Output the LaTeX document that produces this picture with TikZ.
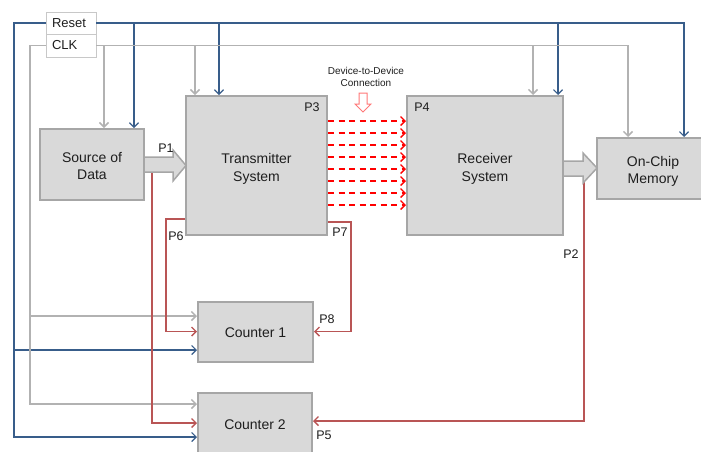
\documentclass[tikz,border=0pt]{standalone}
\usepackage{fontspec}
\setmainfont{Liberation Sans}
\usetikzlibrary{arrows.meta,calc}
\definecolor{blu}{RGB}{56,93,138}
\definecolor{gln}{RGB}{178,178,178}
\definecolor{rln}{RGB}{185,85,85}
\definecolor{bfill}{RGB}{217,217,217}
\definecolor{bdraw}{RGB}{166,166,166}
\definecolor{dred}{RGB}{255,0,0}
\definecolor{hred}{RGB}{255,120,120}
\definecolor{sigdraw}{RGB}{200,200,200}
\definecolor{txt}{RGB}{30,30,30}
\begin{document}
\begin{tikzpicture}[x=1pt,y=1pt,
  >={Straight Barb[length=4.5pt,width=9pt]},
  box/.style={draw=bdraw, fill=bfill, line width=2pt, inner sep=0pt, align=center, text=txt,
    font=\fontsize{14}{17.5}\selectfont},
  btext/.style={inner sep=0pt, align=center, text=txt, font=\fontsize{14}{17.5}\selectfont},
  sig/.style={draw=sigdraw, fill=white, line width=0.8pt, text width=38pt, inner xsep=6pt, inner ysep=0pt,
    align=left, text=txt, font=\fontsize{13}{15}\selectfont},
  bline/.style={draw=blu, line width=1.2pt},
  gline/.style={draw=gln, line width=1.5pt},
  rline/.style={draw=rln, line width=1.4pt},
  dline/.style={draw=dred, line width=1.3pt, dash pattern=on 6pt off 4.5pt},
  fat/.style={draw=bdraw, fill=bfill, line width=1.5pt, line join=miter},
  plab/.style={font=\fontsize{12.5}{14}\selectfont, inner sep=0pt, text=txt}]
\useasboundingbox (0,0) rectangle (701,-451);
\clip (0,0) rectangle (701,-451);

% blocks
\node[box, minimum width=104pt, minimum height=71pt] (src) at (92,-164.5) {};
\node[box, minimum width=141pt, minimum height=139pt] (tx) at (256.5,-165.5) {};
\node[box, minimum width=156pt, minimum height=139pt] (rx) at (485,-165.5) {};
\node[box, minimum width=112pt, minimum height=61pt] (mem) at (653,-168.5) {};
\node[box, minimum width=115pt, minimum height=60pt] (c1) at (255.5,-331.5) {};
\node[box, minimum width=114pt, minimum height=62pt] (c2) at (255,-424) {};
\node[btext] (srcT) at ([yshift=-1.5pt]src.center) {Source of\\Data};
\node[btext] (txT) at ([yshift=-3.5pt]tx.center) {Transmitter\\System};
\node[btext] (rxT) at ([yshift=-3.5pt]rx.center) {Receiver\\System};
\node[btext] (memT) at ([yshift=-3pt]mem.center) {On-Chip\\Memory};
\node[btext] (c1T) at ([yshift=-1pt]c1.center) {Counter 1};
\node[btext] (c2T) at ([yshift=-0.5pt]c2.center) {Counter 2};

% signal boxes
\node[sig, minimum height=22pt] (reset) at (71,-23) {Reset};
\node[sig, minimum height=23pt] (clk) at (71,-45.5) {CLK};

% helper coordinates
\coordinate (srcB) at ([xshift=42pt]src.north);
\coordinate (srcG) at ([xshift=12pt]src.north);
\coordinate (txB) at ([xshift=-37.5pt]tx.north);
\coordinate (txG) at ([xshift=-61.5pt]tx.north);
\coordinate (rxB) at ([xshift=73pt]rx.north);
\coordinate (rxG) at ([xshift=48pt]rx.north);
\coordinate (memB) at ([xshift=31pt]mem.north);
\coordinate (memG) at ([xshift=-25pt]mem.north);
\coordinate (c1G) at ([yshift=15.5pt]c1.west);
\coordinate (c1B) at ([yshift=-18.5pt]c1.west);
\coordinate (c2G) at ([yshift=20pt]c2.west);
\coordinate (c2B) at ([yshift=-13pt]c2.west);
\coordinate (c2R) at ([yshift=1pt]c2.west);
\coordinate (c2E) at ([yshift=3pt]c2.east);
\coordinate (gL) at (30,0);
\coordinate (bL) at (14,0);

% Reset (blue) lines
\draw[bline,->] (reset.east) -| (memB);
\draw[bline,->] (srcB |- reset.east) -- (srcB);
\draw[bline,->] (txB |- reset.east) -- (txB);
\draw[bline,->] (rxB |- reset.east) -- (rxB);
\draw[bline,->] (reset.west) -| (bL |- c2B) -- (c2B);
\draw[bline,->] (bL |- c1B) -- (c1B);

% CLK (gray) lines
\draw[gline,->] (clk.east) -| (memG);
\draw[gline,->] (srcG |- clk.east) -- (srcG);
\draw[gline,->] (txG |- clk.east) -- (txG);
\draw[gline,->] (rxG |- clk.east) -- (rxG);
\draw[gline,->] (clk.west) -| (gL |- c2G) -- (c2G);
\draw[gline,->] (gL |- c1G) -- (c1G);

% red lines
\coordinate (p1b) at (152,-172);
\draw[rline,->] (p1b) |- (c2R);
\coordinate (p6) at ([yshift=17pt]tx.south west);
\coordinate (p6c) at (166,0);
\draw[rline,->] (p6) -- (p6c |- p6) |- (c1.west);
\coordinate (p7) at ([yshift=14pt]tx.south east);
\coordinate (p7c) at (351,0);
\draw[rline,->] (p7) -- (p7c |- p7) |- (c1.east);
\coordinate (p2) at (584,-176);
\draw[rline,->] (p2) |- (c2E);

% device-to-device dashed links
\coordinate (dA) at ([yshift=-26pt]tx.north east);
\coordinate (dB) at ([yshift=-38pt]tx.north east);
\coordinate (dC) at ([yshift=-50pt]tx.north east);
\coordinate (dD) at ([yshift=-62pt]tx.north east);
\coordinate (dE) at ([yshift=-74pt]tx.north east);
\coordinate (dF) at ([yshift=-86pt]tx.north east);
\coordinate (dG) at ([yshift=-98pt]tx.north east);
\coordinate (dH) at ([yshift=-110pt]tx.north east);
\draw[dline,->] (dA) -- (dA -| rx.west);
\draw[dline,->] (dB) -- (dB -| rx.west);
\draw[dline,->] (dC) -- (dC -| rx.west);
\draw[dline,->] (dD) -- (dD -| rx.west);
\draw[dline,->] (dE) -- (dE -| rx.west);
\draw[dline,->] (dF) -- (dF -| rx.west);
\draw[dline,->] (dG) -- (dG -| rx.west);
\draw[dline,->] (dH) -- (dH -| rx.west);

% fat arrows
\draw[fat] (145,-157) -- (173,-157) -- (173,-150) -- (186,-165.5) -- (173,-181) -- (173,-172) -- (145,-172);
\draw[fat] (564,-161) -- (583,-161) -- (583,-153) -- (597,-168) -- (583,-183) -- (583,-176) -- (564,-176);

% hollow arrow and label
\node[font=\fontsize{10}{12}\selectfont, align=center, text=txt, inner sep=0pt] (d2d) at (366,-77) {Device-to-Device\\Connection};
\draw[hred, line width=1pt, fill=white] (359,-93) -- (367,-93) -- (367,-104) -- (371,-104) -- (363,-112) -- (355,-104) -- (359,-104) -- cycle;

% port labels
\node[plab] (P1) at (166,-148) {P1};
\node[plab] (P3) at (312,-107) {P3};
\node[plab] (P4) at (422,-107) {P4};
\node[plab] (P6) at (176,-236) {P6};
\node[plab] (P7) at (340,-232) {P7};
\node[plab] (P8) at (327,-319) {P8};
\node[plab] (P2) at (571,-254) {P2};
\node[plab] (P5) at (324,-435) {P5};
\end{tikzpicture}
\end{document}
